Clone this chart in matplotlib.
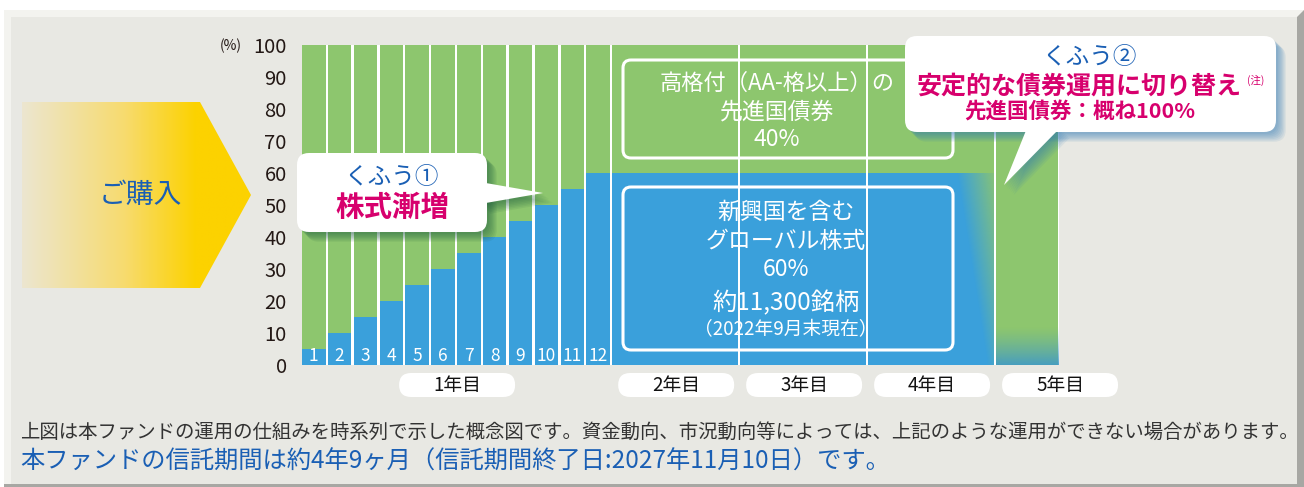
import numpy as np
import matplotlib.pyplot as plt
from matplotlib.patches import FancyBboxPatch, Polygon, Rectangle

plt.rcParams['font.family'] = ['Noto Sans CJK JP', 'DejaVu Sans']

# === データ ===
months = list(range(1, 13))
stock_month = [5, 10, 15, 20, 25, 30, 35, 40, 45, 50, 55, 60]   # 株式比率(%)
year_labels = ['1年目', '2年目', '3年目', '4年目', '5年目']
stock_year = [60, 60, 60, 0]     # 2〜5年目の株式比率(%)
yticks = list(range(0, 101, 10))

GREEN = '#8dc66e'
BLUE = '#3aa0db'
NAVY = '#1a5fb4'
PINK = '#d7006d'

W, H = 1304, 487
fig = plt.figure(figsize=(W / 100, H / 100), dpi=100)
fig.patch.set_facecolor('white')

# 背景パネル
bg = fig.add_axes([0, 0, 1, 1], zorder=0)
bg.set_xlim(0, W)
bg.set_ylim(H, 0)
bg.axis('off')
bg.add_patch(Polygon([(4, 10), (1304, 10), (1304, 487), (4, 487)], closed=True, color='#a7a7a3', lw=0))
bg.add_patch(Polygon([(4, 10), (1304, 10), (1297, 17), (11, 17), (11, 484), (4, 484)], closed=True,
                     color='#f3f3ef', lw=0))
bg.add_patch(Rectangle((11, 17), 1286, 467, color='#e8e8e3', lw=0))

# ご購入 矢印
arrow = Polygon([(22, 102), (200, 102), (251, 195), (200, 288), (22, 288)], closed=True,
                facecolor='none', edgecolor='none')
bg.add_patch(arrow)
t = np.linspace(0, 1, 256)
stops_t = [0, 0.45, 0.76, 1]
stops_c = np.array([[236, 230, 208], [247, 219, 110], [252, 210, 0], [252, 210, 0]]) / 255
grad = np.stack([np.interp(t, stops_t, stops_c[:, k]) for k in range(3)], axis=-1)[None, :, :]
im = bg.imshow(grad, extent=(22, 251, 288, 102), aspect='auto', interpolation='bilinear', zorder=2)
im.set_clip_path(arrow)
bg.text(140, 195, 'ご購入', fontsize=20, color=NAVY, ha='center', va='center', zorder=3)
bg.set_xlim(0, W)
bg.set_ylim(H, 0)

# === メインの棒グラフ ===
slot = 25.85
ax = fig.add_axes([302 / W, (H - 365) / H, 29.3 * slot / W, 320 / H], zorder=1)
ax.set_facecolor('white')

x_month = [m - 1 for m in months]
bond_month = [100 - s for s in stock_month]
ax.bar(x_month, stock_month, width=0.91, align='edge', color=BLUE, lw=0)
ax.bar(x_month, bond_month, bottom=stock_month, width=0.91, align='edge', color=GREEN, lw=0)

year_w = 4.95
year_starts = [12 + i * year_w for i in range(4)]
year_widths = [year_w - 0.07] * 3 + [year_w * 0.5 - 0.07]
bond_year = [100 - s for s in stock_year]
ax.bar(year_starts, stock_year, width=year_widths, align='edge', color=BLUE, lw=0)
ax.bar(year_starts, bond_year, bottom=stock_year, width=year_widths, align='edge', color=GREEN, lw=0)

# 4年目右端のグラデーション(株式→債券)
x4a, x4b = year_starts[2] + 3.45, year_starts[2] + year_widths[2]
gx = np.linspace(x4a, x4b, 120)
gy = np.linspace(stock_year[2], 0, 120)
GX, GY = np.meshgrid(gx, gy)
xl = (x4b - 0.25) - (x4b - 0.25 - x4a) * (GY / stock_year[2])
tt = np.clip((GX - xl) / (x4b - xl + 1e-9), 0, 1)
rgba = np.zeros(GX.shape + (4,))
rgba[..., :3] = np.array([141, 198, 110]) / 255
rgba[..., 3] = tt * (0.15 + 0.75 * GY / stock_year[2])
ax.imshow(rgba, extent=(x4a, x4b, 0, stock_year[2]), aspect='auto', interpolation='bilinear', zorder=3)

# 5年目下端のグラデーション
x5a, x5b = year_starts[3], year_starts[3] + year_widths[3]
gy5 = np.linspace(12, 0, 60)
rgba5 = np.zeros((60, 2, 4))
rgba5[..., :3] = np.array([64, 154, 200]) / 255
rgba5[..., 3] = ((1 - gy5 / 12) ** 1.3 * 0.9)[:, None]
ax.imshow(rgba5, extent=(x5a, x5b, 0, 12), aspect='auto', interpolation='bilinear', zorder=3)

for m in months:
    ax.text(m - 1 + 0.455, 2.7, str(m), color='white', fontsize=12.5, ha='center', va='center', zorder=4)

ax.set_xlim(0, 29.3)
ax.set_ylim(0, 100)
ax.set_xticks([])
ax.set_yticks(yticks)
ax.set_yticklabels([str(v) for v in yticks], fontsize=14.5, color='#231815')
ax.tick_params(axis='y', length=0, pad=11)
for s in ax.spines.values():
    s.set_visible(False)

# 年の表示(白いピル)
year_centers = [6] + [12 + (i + 0.5) * year_w for i in range(4)]
for lab, xc in zip(year_labels, year_centers):
    px = ax.transData.transform((xc, 0))[0]
    bg.add_patch(FancyBboxPatch((px - 58, 373), 116, 24, boxstyle='round,pad=0,rounding_size=12',
                                facecolor='white', edgecolor='none'))
    bg.text(px, 385, lab, fontsize=13.5, color='#111111', ha='center', va='center')

# === 上に重ねる注記 ===
ov = fig.add_axes([0, 0, 1, 1], zorder=2)
ov.set_xlim(0, W)
ov.set_ylim(H, 0)
ov.axis('off')


def rbox(x0, y0, x1, y1, r, **kw):
    return FancyBboxPatch((x0, y0), x1 - x0, y1 - y0, boxstyle=f'round,pad=0,rounding_size={r}', **kw)


def shadow(box, tri, color):
    for k in range(7):
        d = 2 + k * 1.3
        ov.add_patch(rbox(box[0] + d, box[1] + d, box[2] + d, box[3] + d, 12,
                          facecolor=color, edgecolor='none', alpha=0.09))
        ov.add_patch(Polygon([(px + d, py + d) for px, py in tri], closed=True,
                             facecolor=color, edgecolor='none', alpha=0.09))


ov.text(231, 46, '(%)', fontsize=10, color='#231815', ha='center', va='center')

# くふう①
b1 = (297, 153, 487, 232)
tri1 = [(480, 182), (543, 193), (480, 204)]
shadow(b1, tri1, '#1d5c3e')
ov.add_patch(rbox(*b1, 12, facecolor='white', edgecolor='none'))
ov.add_patch(Polygon(tri1, closed=True, facecolor='white', edgecolor='none'))
ov.text(392, 177, 'くふう①', fontsize=17, color=NAVY, ha='center', va='center')
ov.text(392, 208, '株式漸増', fontsize=20.5, color=PINK, ha='center', va='center', fontweight='bold')

# 債券・株式の枠
ov.add_patch(rbox(623, 60, 953, 158, 8, facecolor='none', edgecolor='white', lw=2.2))
ov.add_patch(rbox(623, 187, 953, 350, 8, facecolor='none', edgecolor='white', lw=2.2))
for txt, y, fs in [('高格付（AA-格以上）の', 83, 16), ('先進国債券', 112, 16.5), ('40%', 140, 16.5)]:
    ov.text(777, y, txt, fontsize=fs, color='white', ha='center', va='center')
for txt, y, fs in [('新興国を含む', 212, 16.5), ('グローバル株式', 242, 16.5), ('60%', 270, 16.5),
                   ('約11,300銘柄', 303, 17.5), ('（2022年9月末現在）', 330, 13.5)]:
    ov.text(786, y, txt, fontsize=fs, color='white', ha='center', va='center')

# くふう②
b2 = (905, 36, 1276, 132)
tri2 = [(1027, 128), (1004, 185), (1060, 128)]
shadow(b2, tri2, '#2a78b5')
ov.add_patch(rbox(*b2, 12, facecolor='white', edgecolor='none'))
ov.add_patch(Polygon(tri2, closed=True, facecolor='white', edgecolor='none'))
ov.text(1090, 57, 'くふう②', fontsize=17, color=NAVY, ha='center', va='center')
ov.text(1079, 87, '安定的な債券運用に切り替え', fontsize=18, color=PINK, ha='center', va='center',
        fontweight='bold')
ov.text(1256, 80, '(注)', fontsize=7.5, color=PINK, ha='center', va='center')
ov.text(1080, 112, '先進国債券：概ね100%', fontsize=15.5, color=PINK, ha='center', va='center',
        fontweight='bold')

# 注記
bg.text(20, 432, '上図は本ファンドの運用の仕組みを時系列で示した概念図です。資金動向、市況動向等によっては、'
        '上記のような運用ができない場合があります。', fontsize=13.95, color='#333333', ha='left', va='center')
bg.text(20, 462, '本ファンドの信託期間は約4年9ヶ月（信託期間終了日:2027年11月10日）です。',
        fontsize=17.5, color=NAVY, ha='left', va='center')

fig.savefig('out.png', dpi=100)
